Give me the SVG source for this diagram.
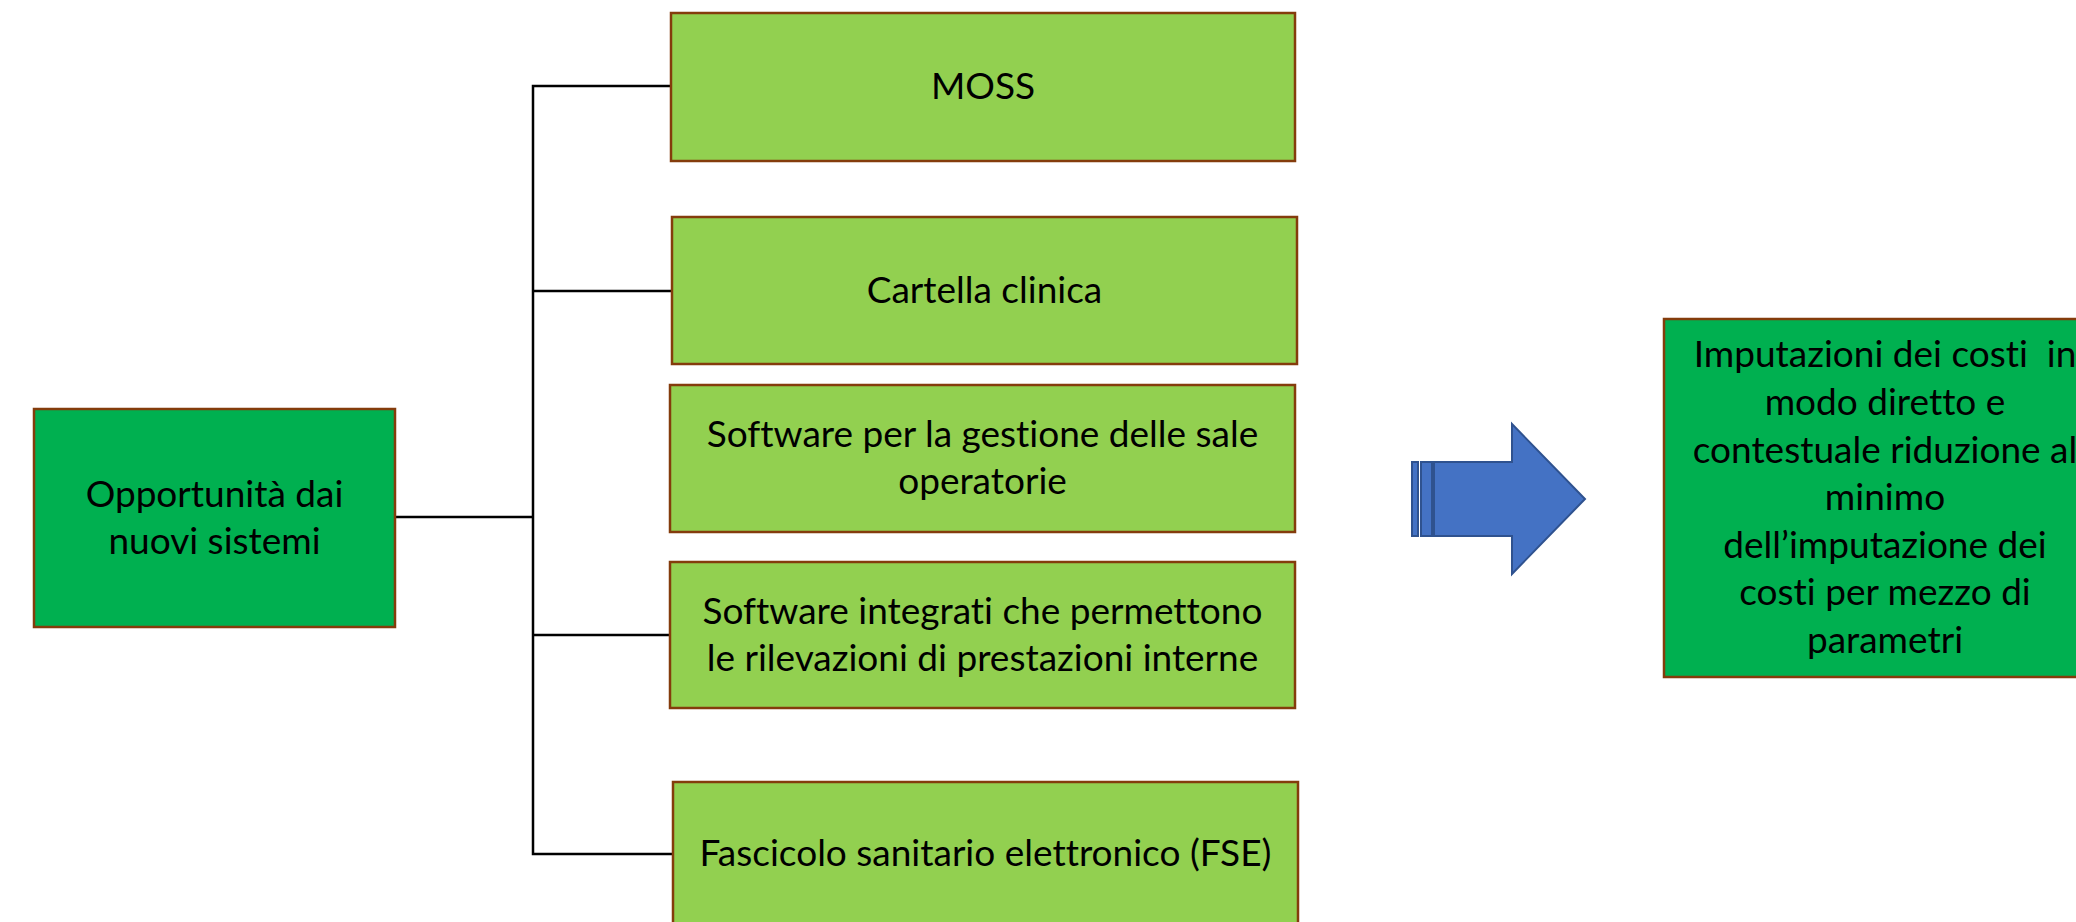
<svg xmlns="http://www.w3.org/2000/svg" width="2076" height="922" viewBox="0 0 2076 922">
<style>
.box{stroke:#843C0C;stroke-width:2.5}
.lg{fill:#92D050}
.dg{fill:#00B050}
.t{font-family:Lato,"Open Sans","Liberation Sans",sans-serif;font-size:37px;fill:#000;text-anchor:middle;font-variant-ligatures:none}
.c{fill:none;stroke:#000;stroke-width:2.5}
.arr{fill:#4472C4;stroke:#2F528F;stroke-width:2}
</style>
<rect width="2076" height="922" fill="#fff"/>
<g id="connectors">
<polyline class="c" points="395,517 533,517"/>
<polyline class="c" points="671,86 533,86 533,854 673,854"/>
<polyline class="c" points="533,291 672,291"/>
<polyline class="c" points="533,635 670,635"/>
</g>
<g id="n-opportunita">
<rect class="box dg" x="34" y="409" width="361" height="218"/>
<text class="t" x="214.5" y="507">Opportunità dai</text>
<text class="t" x="214.5" y="554">nuovi sistemi</text>
</g>
<g id="n-moss">
<rect class="box lg" x="671" y="13" width="624" height="148"/>
<text class="t" x="983" y="99">MOSS</text>
</g>
<g id="n-cartella">
<rect class="box lg" x="672" y="217" width="625" height="147"/>
<text class="t" x="984.5" y="303">Cartella clinica</text>
</g>
<g id="n-sale">
<rect class="box lg" x="670" y="385" width="625" height="147"/>
<text class="t" x="982.5" y="447">Software per la gestione delle sale</text>
<text class="t" x="982.5" y="494">operatorie</text>
</g>
<g id="n-integrati">
<rect class="box lg" x="670" y="562" width="625" height="146"/>
<text class="t" x="982.5" y="623.5">Software integrati che permettono</text>
<text class="t" x="982.5" y="671">le rilevazioni di prestazioni interne</text>
</g>
<g id="n-fse">
<rect class="box lg" x="673" y="782" width="625" height="150"/>
<text class="t" x="985.5" y="866">Fascicolo sanitario elettronico (FSE)</text>
</g>
<g id="n-arrow">
<rect class="arr" x="1412" y="462" width="6" height="74"/>
<rect class="arr" x="1421" y="462" width="11" height="74"/>
<polygon class="arr" points="1434,462 1512,462 1512,424 1585,499 1512,574 1512,536 1434,536"/>
</g>
<g id="n-imputazioni">
<rect class="box dg" x="1664" y="319" width="450" height="358"/>
<text class="t" x="1885" y="367" xml:space="preserve">Imputazioni dei costi  in</text>
<text class="t" x="1885" y="415">modo diretto e</text>
<text class="t" x="1885" y="462.5">contestuale riduzione al</text>
<text class="t" x="1885" y="510">minimo</text>
<text class="t" x="1885" y="558">dell’imputazione dei</text>
<text class="t" x="1885" y="605">costi per mezzo di</text>
<text class="t" x="1885" y="653">parametri</text>
</g>
</svg>
